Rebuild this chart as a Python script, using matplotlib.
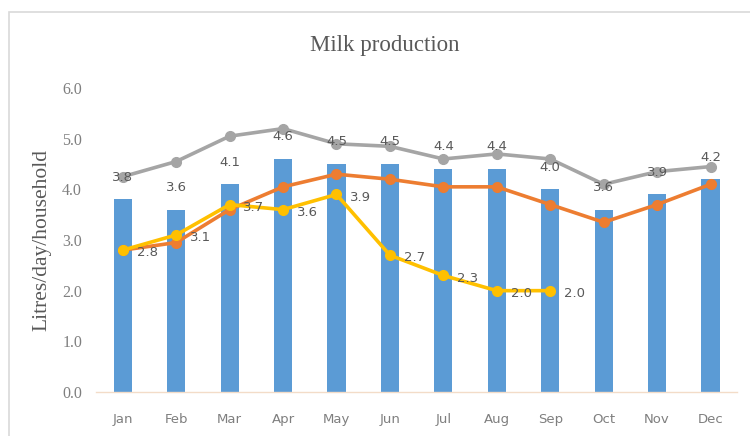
import numpy as np
import matplotlib
matplotlib.use("Agg")
import matplotlib.pyplot as plt
from matplotlib.patches import Rectangle

# data
months = ["Jan", "Feb", "Mar", "Apr", "May", "Jun", "Jul", "Aug", "Sep", "Oct", "Nov", "Dec"]
bar_vals = [3.8, 3.6, 4.1, 4.6, 4.5, 4.5, 4.4, 4.4, 4.0, 3.6, 3.9, 4.2]
grey_vals = [4.25, 4.55, 5.05, 5.2, 4.9, 4.85, 4.6, 4.7, 4.6, 4.1, 4.35, 4.45]
orange_vals = [2.8, 2.95, 3.6, 4.05, 4.3, 4.2, 4.05, 4.05, 3.7, 3.35, 3.7, 4.1]
yellow_vals = [2.8, 3.1, 3.7, 3.6, 3.9, 2.7, 2.3, 2.0, 2.0]
yticks = [0.0, 1.0, 2.0, 3.0, 4.0, 5.0, 6.0]

blue = "#5B9BD5"
orange = "#ED7D31"
grey = "#A5A5A5"
yellow = "#FFC000"
txt = "#595959"
tick_col = "#7F7F7F"

fig = plt.figure(figsize=(7.5, 4.36), dpi=100)
ax = fig.add_axes([0.128, 0.101, 0.855, 0.697])

# chart area border (cut at right/bottom like the screenshot)
fig.patches.append(Rectangle((9 / 750, -0.05), 1.1, 1 - 12 / 436 + 0.05,
                             transform=fig.transFigure, fill=False,
                             edgecolor="#D9D9D9", linewidth=1.2))

x = np.arange(len(months))
ax.bar(x, bar_vals, width=0.34, color=blue, zorder=2)
ax.plot(x, grey_vals, color=grey, lw=2.6, marker="o", ms=7, zorder=3)
ax.plot(x, orange_vals, color=orange, lw=2.6, marker="o", ms=7, zorder=4)
ax.plot(x[:len(yellow_vals)], yellow_vals, color=yellow, lw=2.6, marker="o", ms=7, zorder=5)

for xi, v in zip(x, bar_vals):
    ax.annotate(f"{v:.1f}", (xi, v), xytext=(0, 16), textcoords="offset points",
                ha="center", va="center", fontsize=9.5, color=txt,
                family="DejaVu Sans", zorder=6)
for xi, v in zip(x, yellow_vals):
    ax.annotate(f"{v:.1f}", (xi, v), xytext=(10, -2), textcoords="offset points",
                ha="left", va="center", fontsize=9.5, color=txt,
                family="DejaVu Sans", zorder=6)

ax.set_xlim(-0.5, len(months) - 0.5)
ax.set_ylim(0, 6)
ax.set_yticks(yticks)
ax.set_yticklabels([f"{t:.1f}" for t in yticks], family="Liberation Serif",
                   fontsize=11.5, color=tick_col)
ax.set_xticks(x)
ax.set_xticklabels(months, family="DejaVu Sans", fontsize=9.5, color=tick_col)
ax.tick_params(length=0)
ax.tick_params(axis="x", pad=15)
ax.tick_params(axis="y", pad=10)

for s in ["top", "right", "left"]:
    ax.spines[s].set_visible(False)
ax.spines["bottom"].set_color("#F3DCC8")
ax.spines["bottom"].set_linewidth(1)

ax.set_ylabel("Litres/day/household", family="Liberation Serif", fontsize=15.5,
              color=txt, labelpad=8)
fig.text(0.513, 0.895, "Milk production", family="Liberation Serif",
         fontsize=16.5, color=txt, ha="center", va="center")

fig.savefig("out.png", dpi=100, facecolor="white")
